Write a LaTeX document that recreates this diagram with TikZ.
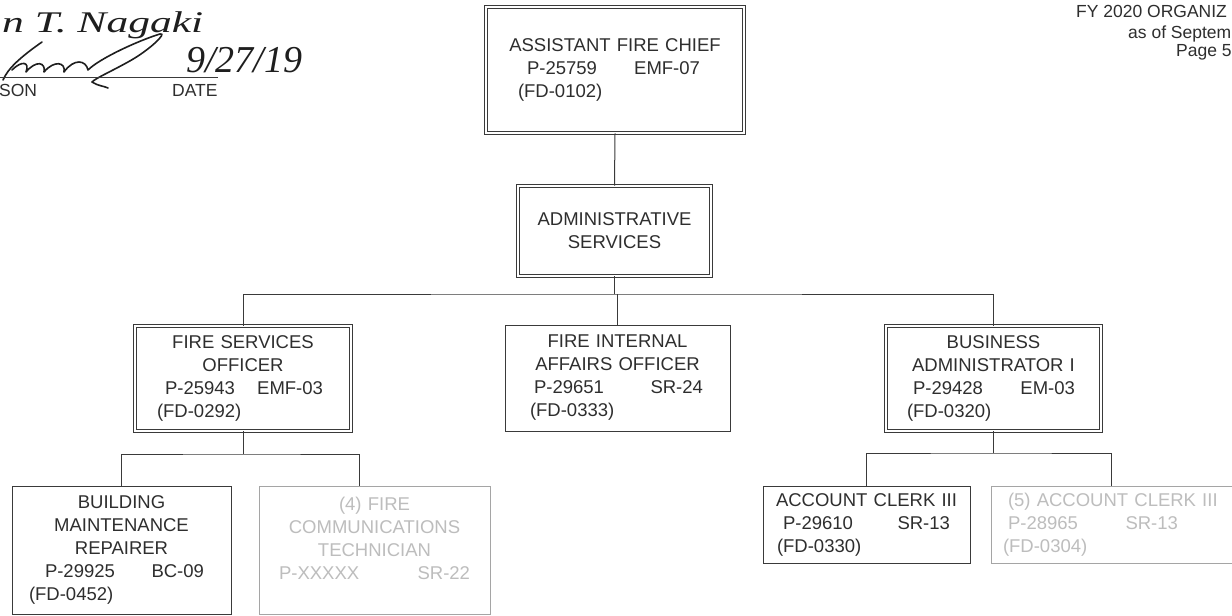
\documentclass[tikz,border=0pt]{standalone}
\usepackage{fontspec}
\setmainfont{Liberation Sans}
\newfontfamily\sigfont{Liberation Serif}
\usetikzlibrary{calc}
\definecolor{linec}{HTML}{3A3A3A}
\definecolor{textc}{HTML}{2E2E2E}
\definecolor{fadec}{HTML}{A5A5A5}
\definecolor{fadetc}{HTML}{BDBDBD}
\definecolor{inkc}{HTML}{1E1E1E}
\newcommand\boxfont{\fontsize{18.5}{23}\selectfont}
\newcommand\twocol[4]{\makebox[\linewidth][l]{\hspace*{#1pt}#2\hfill#3\hspace*{#4pt}}}
\newcommand\lcol[2]{\makebox[\linewidth][l]{\hspace*{#1pt}#2}}
\tikzset{
  box/.style={draw=linec, line width=1pt, inner sep=0pt, align=center, font=\boxfont, text=textc},
  dbox/.style={box, double=white, double distance=2.6pt, line width=0.8pt},
  fbox/.style={box, draw=fadec, text=fadetc},
  conn/.style={draw=linec, line width=1pt},
  sig/.style={draw=inkc, line width=1.6pt, line cap=round, line join=round},
  hdr/.style={inner sep=0pt, text=textc, font=\fontsize{17.5}{20}\selectfont, anchor=base west},
}
\begin{document}
\begin{tikzpicture}[x=1pt,y=-1pt]
\useasboundingbox (0,0) rectangle (1232,616);
\clip (0,0) rectangle (1232,616);
\fill[white] (0,0) rectangle (1232,616);

% ---- signature block (top left)
\node[inner sep=0pt, anchor=base west, text=inkc, font=\sigfont\itshape\fontsize{30}{30}\selectfont] (signame) at (2,32) {\scalebox{1.45}[1]{n T. Nagaki}};
\node[inner sep=0pt, anchor=base west, text=inkc, font=\sigfont\itshape\fontsize{38}{38}\selectfont] (sigdate) at (186,72) {9/27/19};
\draw[sig] (42,42) .. controls (22,56) and (8,68) .. (3,80);
\draw[sig] (12,70) .. controls (22,60) and (30,62) .. (26,72) .. controls (36,60) and (46,62) .. (44,72) .. controls (54,60) and (66,62) .. (64,72) .. controls (74,58) and (86,60) .. (88,70) .. controls (100,58) and (140,40) .. (160,34) .. controls (168,32) and (150,50) .. (128,62) .. controls (110,72) and (96,78) .. (92,82) .. controls (98,86) and (104,86) .. (108,88);
\coordinate (sigl) at (0,77);
\coordinate (sigr) at (218,77);
\draw[draw=linec, line width=1pt] (sigl) -- (sigr);
\node[hdr] (sonlbl) at (-1,96) {SON};
\node[hdr] (datelbl) at (172,96) {DATE};

% ---- header (top right)
\node[hdr] (hdr1) at (1076,17) {FY 2020 ORGANIZ};
\node[hdr] (hdr2) at (1128,38) {as of Septem};
\node[hdr] (hdr3) at (1176,56) {Page 5};

% ---- boxes
\node[dbox, text width=258pt, minimum width=258pt, minimum height=126pt] (afc) at (615,70)
  {ASSISTANT FIRE CHIEF\\ \twocol{41}{P-25759}{EMF-07}{44}\\ \lcol{32}{(FD-0102)}};
\node[dbox, text width=193pt, minimum width=193pt, minimum height=90pt] (adm) at (614.5,231)
  {ADMINISTRATIVE\\ SERVICES};
\node[dbox, text width=216pt, minimum width=216pt, minimum height=105pt] (fso) at (243,378.5)
  {FIRE SERVICES\\ OFFICER\\ \twocol{30}{P-25943}{EMF-03}{28}\\ \lcol{22}{(FD-0292)}};
\node[box, text width=225pt, minimum width=225pt, minimum height=106pt] (fia) at (617.5,378)
  {FIRE INTERNAL\\ AFFAIRS OFFICER\\ \twocol{29}{P-29651}{SR-24}{27}\\ \lcol{25}{(FD-0333)}};
\node[dbox, text width=215pt, minimum width=215pt, minimum height=105pt] (bao) at (993.5,378.5)
  {BUSINESS\\ ADMINISTRATOR I\\ \twocol{27}{P-29428}{EM-03}{26}\\ \lcol{21}{(FD-0320)}};
\node[box, text width=219pt, minimum width=219pt, minimum height=128pt] (bmr) at (121.5,550)
  {BUILDING\\ MAINTENANCE\\ REPAIRER\\ \twocol{33}{P-29925}{BC-09}{27}\\ \lcol{17}{(FD-0452)}};
\node[fbox, text width=231pt, minimum width=231pt, minimum height=128pt] (fct) at (374.5,550)
  {(4) FIRE\\ COMMUNICATIONS\\ TECHNICIAN\\ \twocol{20}{P-XXXXX}{SR-22}{20}\\ \mbox{}};
\node[box, text width=207pt, minimum width=207pt, minimum height=77pt] (ac3) at (866.5,524.5)
  {ACCOUNT CLERK III\\ \twocol{20}{P-29610}{SR-13}{20}\\ \lcol{14}{(FD-0330)}};
\node[fbox, text width=249pt, minimum width=249pt, minimum height=77pt] (ac5) at (1115.5,524.5)
  {\lcol{17}{(5) ACCOUNT CLERK III}\\ \twocol{17}{P-28965}{SR-13}{62}\\ \lcol{12}{(FD-0304)}};

% ---- connectors
\coordinate (bus) at (614.5,294);
\coordinate (b2) at (243,454);
\coordinate (b3) at (993.5,453);
\coordinate (fctin) at ($(fct.north west)+(101,0)$);
\coordinate (ac5in) at ($(ac5.north west)+(121,0)$);
\draw[conn] (afc.south) -- (adm.north);
\draw[conn] (adm.south) -- (bus);
\draw[conn] (fso.north) |- (bus) -| (bao.north);
\draw[conn] (fia.north) -- (fia.north |- bus);
\draw[conn] (fso.south) -- (b2);
\draw[conn] (bmr.north) |- (b2) -| (fctin);
\draw[conn] (bao.south) -- (b3);
\draw[conn] (ac3.north) |- (b3) -| (ac5in);
\end{tikzpicture}
\end{document}
